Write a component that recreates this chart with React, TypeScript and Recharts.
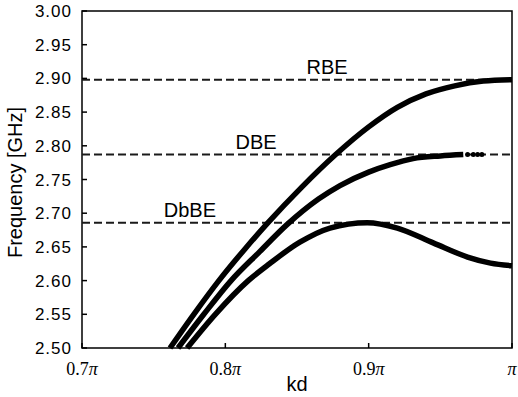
import {
  ComposedChart,
  Line,
  XAxis,
  YAxis,
  ReferenceLine,
  ReferenceArea,
} from 'recharts'

// ── Data ─────────────────────────────────────────────────────────────────────

// kd in units of π, frequency in GHz
const rbeKd = [0.7614, 0.778, 0.7955, 0.8137, 0.8298, 0.853, 0.877, 0.9, 0.92, 0.94, 0.96, 0.98, 1.0]
const rbeFreq = [2.5, 2.55, 2.6, 2.647, 2.686, 2.738, 2.787, 2.828, 2.857, 2.877, 2.889, 2.896, 2.898]

const dbeKd = [0.767, 0.785, 0.804, 0.824, 0.843, 0.865, 0.88, 0.9, 0.915, 0.931, 0.95, 0.966]
const dbeFreq = [2.5, 2.55, 2.6, 2.643, 2.683, 2.721, 2.741, 2.761, 2.772, 2.781, 2.785, 2.787]
const dbeTailKd = [0.969, 0.973, 0.976, 0.979]
const dbeTailFreq = [2.787, 2.787, 2.787, 2.787]

const dbbeKd = [0.7733, 0.793, 0.816, 0.8308, 0.852, 0.873, 0.899, 0.92, 0.945, 0.969, 0.985, 1.0]
const dbbeFreq = [2.5, 2.55, 2.6, 2.625, 2.657, 2.678, 2.686, 2.678, 2.656, 2.635, 2.626, 2.622]

const edgeFreqs = [2.898, 2.787, 2.686]
const edgeLabels = ['RBE', 'DBE', 'DbBE']

const xTicks = [0.7, 0.8, 0.9, 1.0]
const xTickLabels = ['0.7', '0.8', '0.9', '']
const yTicks = [2.5, 2.55, 2.6, 2.65, 2.7, 2.75, 2.8, 2.85, 2.9, 2.95, 3.0]

// ── Helpers ──────────────────────────────────────────────────────────────────

const zip = (xs: number[], ys: number[]) => xs.map((kd, i) => ({ kd, f: ys[i] }))

const SANS = '"Liberation Sans", Arial, sans-serif'
const SERIF = '"Liberation Serif", "Times New Roman", serif'

// where each band-edge label sits along its dashed line (fraction of plot width)
const LABEL_POS = [0.57, 0.405, 0.251]

function YTick({ x, y, payload }: any) {
  return (
    <g>
      <line x1={x} x2={x + 5} y1={y} y2={y} stroke="#000" strokeWidth={1.5} />
      <text
        x={x - 10}
        y={y + 6}
        textAnchor="end"
        fontSize={17}
        letterSpacing={1}
        fontFamily={SANS}
        fill="#000"
      >
        {payload.value.toFixed(2)}
      </text>
    </g>
  )
}

function XTick({ x, y, payload, index }: any) {
  return (
    <g>
      <line x1={x} x2={x} y1={y} y2={y - 5} stroke="#000" strokeWidth={1.5} />
      <text x={x} y={y + 27} textAnchor="middle" fontSize={18} fontFamily={SERIF} fill="#000">
        {xTickLabels[index] ?? payload.value}
        <tspan fontStyle="italic">π</tspan>
      </text>
    </g>
  )
}

const edgeLabel = (text: string, frac: number) => (props: any) => {
  const vb = props.viewBox
  return (
    <text
      x={vb.x + vb.width * frac}
      y={vb.y - 6}
      textAnchor="middle"
      fontSize={20}
      fontFamily={SANS}
      fill="#000"
    >
      {text}
    </text>
  )
}

// ── Component ────────────────────────────────────────────────────────────────

export default function App() {
  return (
    <div style={{ position: 'absolute', left: 0, top: 0, width: 518, height: 397, background: '#fff' }}>
      <ComposedChart width={518} height={397} margin={{ top: 11, right: 6, left: 0, bottom: 0 }}>
        <XAxis
          dataKey="kd"
          type="number"
          domain={[0.7, 1]}
          ticks={xTicks}
          tick={<XTick />}
          tickLine={false}
          axisLine={false}
          tickSize={0}
          tickMargin={0}
          height={49}
          interval={0}
          label={(props: any) => {
            const vb = props.viewBox
            return (
              <text x={vb.x + vb.width / 2} y={391} textAnchor="middle" fontSize={20} fontFamily={SANS} fill="#000">
                kd
              </text>
            )
          }}
        />
        <YAxis
          type="number"
          domain={[2.5, 3.0]}
          ticks={yTicks}
          tick={<YTick />}
          tickLine={false}
          axisLine={false}
          tickSize={0}
          tickMargin={0}
          width={82}
          interval={0}
          label={(props: any) => {
            const vb = props.viewBox
            const cy = vb.y + vb.height / 2 + 3
            return (
              <text
                x={22}
                y={cy}
                transform={`rotate(-90, 22, ${cy})`}
                textAnchor="middle"
                fontSize={20}
                fontFamily={SANS}
                fill="#000"
              >
                Frequency [GHz]
              </text>
            )
          }}
        />

        <ReferenceArea x1={0.7} x2={1} y1={2.5} y2={3} fill="none" stroke="#000" strokeWidth={1.5} />

        {edgeFreqs.map((f, i) => (
          <ReferenceLine
            key={edgeLabels[i]}
            y={f}
            stroke="#1a1a1a"
            strokeWidth={2}
            strokeDasharray="8 4"
            label={edgeLabel(edgeLabels[i], LABEL_POS[i])}
          />
        ))}

        <Line data={zip(rbeKd, rbeFreq)} dataKey="f" type="monotone" stroke="#000" strokeWidth={5.5} dot={false} isAnimationActive={false} />
        <Line data={zip(dbeKd, dbeFreq)} dataKey="f" type="monotone" stroke="#000" strokeWidth={5.5} dot={false} isAnimationActive={false} />
        <Line
          data={zip(dbeTailKd, dbeTailFreq)}
          dataKey="f"
          stroke="none"
          dot={{ r: 2.5, fill: '#000', stroke: 'none' }}
          isAnimationActive={false}
        />
        <Line data={zip(dbbeKd, dbbeFreq)} dataKey="f" type="monotone" stroke="#000" strokeWidth={5.5} dot={false} isAnimationActive={false} />
      </ComposedChart>
    </div>
  )
}
